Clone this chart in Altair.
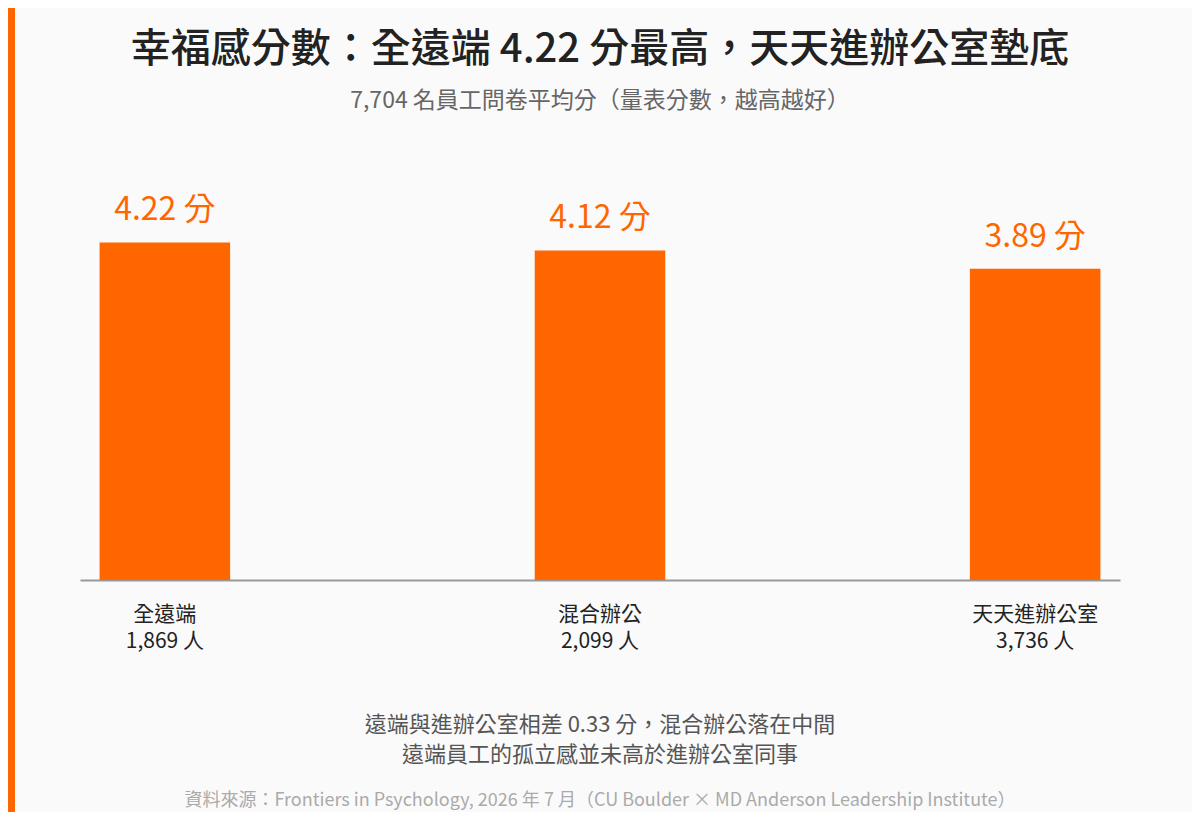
import altair as alt
import pandas as pd

# ---- data ----
categories = ["全遠端", "混合辦公", "天天進辦公室"]
scores = [4.22, 4.12, 3.89]
counts = ["1,869", "2,099", "3,736"]

title_text = "幸福感分數：全遠端 4.22 分最高，天天進辦公室墊底"
subtitle_text = "7,704 名員工問卷平均分（量表分數，越高越好）"
note_lines = ["遠端與進辦公室相差 0.33 分，混合辦公落在中間", "遠端員工的孤立感並未高於進辦公室同事"]
source_text = "資料來源：Frontiers in Psychology, 2026 年 7 月（CU Boulder × MD Anderson Leadership Institute）"

ORANGE = "#ff6600"
FONT = "Noto Sans CJK TC"

df = pd.DataFrame({
    "cat": categories,
    "score": scores,
    "count_label": [f"{n} 人" for n in counts],
    "value_label": [f"{s:.2f} 分" for s in scores],
})

W, H = 1040, 400

x_enc = alt.X(
    "cat:N",
    sort=None,
    scale=alt.Scale(paddingInner=0.7, paddingOuter=0.045),
    axis=alt.Axis(
        title=None,
        labelAngle=0,
        labelFontSize=21,
        labelColor="#222222",
        labelFont=FONT,
        labelPadding=23,
        ticks=False,
        domainColor="#999999",
        domainWidth=2,
        labelBaseline="top",
    ),
)
y_enc = alt.Y("score:Q", scale=alt.Scale(domain=[0, 5], nice=False), axis=None)

base = alt.Chart(df)
bars = base.mark_bar(color=ORANGE).encode(x=x_enc, y=y_enc)
labels = base.mark_text(
    color=ORANGE, fontSize=32, font=FONT, baseline="alphabetic", dy=-22
).encode(x=x_enc, y=y_enc, text="value_label:N")
count_text = base.mark_text(
    color="#222222", fontSize=21, font=FONT, baseline="middle"
).encode(x=x_enc, y=alt.value(462), text="count_label:N")


def text_layer(txt, y, size, color, weight="normal"):
    return alt.Chart(pd.DataFrame({"t": [txt]})).mark_text(
        fontSize=size, color=color, font=FONT, fontWeight=weight,
        align="center", baseline="middle"
    ).encode(text="t:N", x=alt.value(W / 2), y=alt.value(y))


title = text_layer(title_text, -130, 40, "#222222", 500)
subtitle = text_layer(subtitle_text, -79, 23, "#666666")
note1 = text_layer(note_lines[0], 545, 22, "#555555")
note2 = text_layer(note_lines[1], 575, 22, "#555555")
source = text_layer(source_text, 621, 18, "#aaaaaa")

strip = alt.Chart(pd.DataFrame({"a": [0]})).mark_rect(color=ORANGE).encode(
    x=alt.value(-72), x2=alt.value(-65), y=alt.value(-172), y2=alt.value(632)
)

chart = alt.layer(strip, bars, labels, count_text, title, subtitle, note1, note2, source).properties(
    width=W,
    height=H,
    autosize=alt.AutoSizeParams(type="none"),
    padding={"left": 72, "right": 72, "top": 172, "bottom": 232},
    background="#fafafa",
).configure_view(stroke=None)

chart.save("out.html", embed_options={"renderer": "svg", "actions": False})
